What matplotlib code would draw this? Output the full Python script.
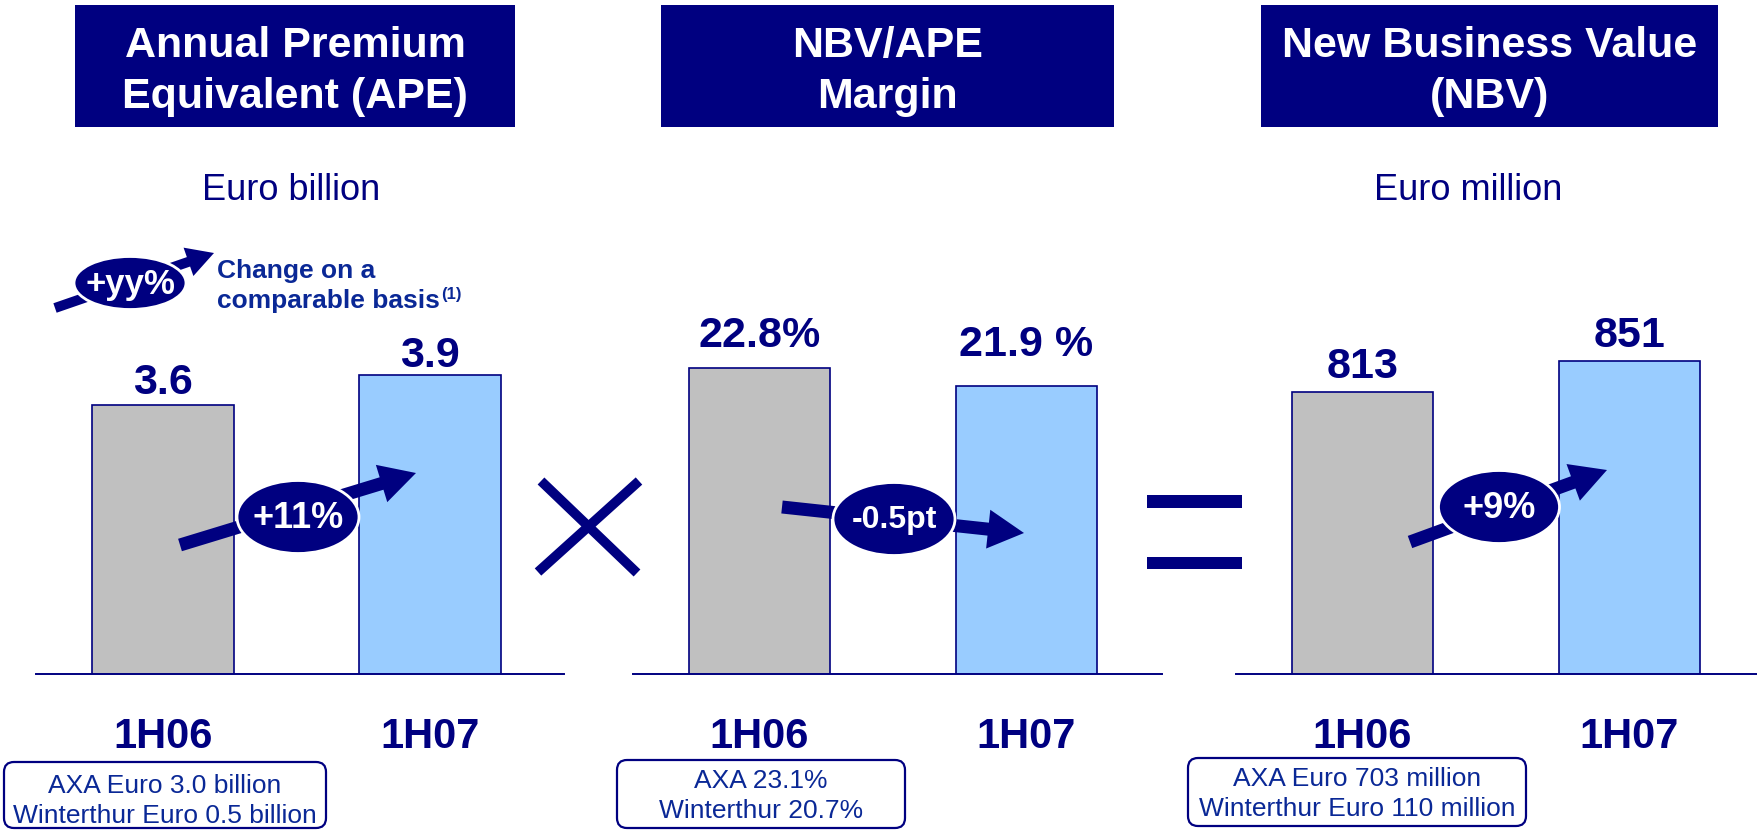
import matplotlib
matplotlib.use("Agg")
import matplotlib.pyplot as plt
from matplotlib.patches import Rectangle, Ellipse, FancyArrow, FancyBboxPatch

plt.rcParams['font.family'] = ['Liberation Sans', 'DejaVu Sans']

# ---------------- data ----------------
periods = ["1H06", "1H07"]
ape_values = [3.6, 3.9]
ape_labels = ["3.6", "3.9"]
margin_values = [22.8, 21.9]
margin_labels = ["22.8%", "21.9 %"]
nbv_values = [813, 851]
nbv_labels = ["813", "851"]
change_labels = ["+11%", "-0.5pt", "+9%"]
header_titles = [["Annual Premium", "Equivalent (APE)"],
                 ["NBV/APE", "Margin"],
                 ["New Business Value", "(NBV)"]]
unit_labels = ["Euro billion", "", "Euro million"]
detail_lines = [["AXA Euro 3.0 billion", "Winterthur Euro 0.5 billion"],
                ["AXA 23.1%", "Winterthur 20.7%"],
                ["AXA Euro 703 million", "Winterthur Euro 110 million"]]
legend_badge = "+yy%"
legend_text = ["Change on a", "comparable basis"]
legend_note = "(1)"

# ---------------- style ----------------
NAVY = "#000080"
BRIGHT = "#0A2896"
GRAY = "#C0C0C0"
LBLUE = "#99CCFF"
W, H = 1758, 830

fig = plt.figure(figsize=(W / 100, H / 100), dpi=100)
fig.patch.set_facecolor("white")

def px_axes(left, bottom_y, right, top_y):
    return fig.add_axes([left / W, (H - bottom_y) / H, (right - left) / W, (bottom_y - top_y) / H])

UNIT = 267.0          # px per category step
BASE = 674
AX_H = 420
panels = [
    dict(c0=163, values=ape_values, labels=ape_labels, ylim=(0.91, 0.91 + AX_H / 100.0),
         offs=(11, 8), right=564),
    dict(c0=759.5, values=margin_values, labels=margin_labels, ylim=(7.5, 7.5 + AX_H / 20.0),
         offs=(21, 30), right=1162),
    dict(c0=1362.5, values=nbv_values, labels=nbv_labels, ylim=(467.3, 467.3 + AX_H / 0.8158),
         offs=(14, 14), right=1763),
]
XL = -0.475
for p in panels:
    left = p["c0"] + XL * UNIT
    ax = px_axes(left, BASE, p["right"], BASE - AX_H)
    xr = (p["right"] - p["c0"]) / UNIT
    ax.set_xlim(XL, xr)
    ax.set_ylim(*p["ylim"])
    xs = list(range(len(periods)))
    ax.bar(xs, p["values"], width=0.53, color=[GRAY, LBLUE], edgecolor=NAVY,
           linewidth=1.2, zorder=2)
    for x, v, lab, off in zip(xs, p["values"], p["labels"], p["offs"]):
        ax.annotate(lab, (x, v), xytext=(0, off), textcoords="offset pixels",
                    ha="center", va="baseline", fontsize=31, fontweight="bold", color=NAVY)
    ax.set_xticks(xs)
    ax.set_xticklabels(periods)
    ax.tick_params(axis="x", length=0, pad=31, labelsize=30, labelcolor=NAVY)
    for t in ax.get_xticklabels():
        t.set_fontweight("bold")
    ax.set_yticks([])
    for s in ["left", "right", "top"]:
        ax.spines[s].set_visible(False)
    ax.spines["bottom"].set_color(NAVY)
    ax.spines["bottom"].set_linewidth(1.4)
    ax.spines["bottom"].set_zorder(3)
    ax.patch.set_alpha(0)

# ---------------- overlay (pixel coordinates) ----------------
ov = fig.add_axes([0, 0, 1, 1], zorder=10)
ov.set_xlim(0, W)
ov.set_ylim(H, 0)
ov.axis("off")
ov.patch.set_alpha(0)

# headers
header_boxes = [(75, 515), (661, 1114), (1261, 1718)]
for (x0, x1), lines in zip(header_boxes, header_titles):
    ov.add_patch(Rectangle((x0, 5), x1 - x0, 122, facecolor=NAVY, edgecolor="none"))
    cx = (x0 + x1) / 2
    ov.text(cx, 57, lines[0], ha="center", va="baseline", color="white",
            fontsize=31, fontweight="bold")
    ov.text(cx, 108, lines[1], ha="center", va="baseline", color="white",
            fontsize=31, fontweight="bold")

# unit labels
for cx, lab in zip([291, 0, 1468], unit_labels):
    if lab:
        ov.text(cx, 200, lab, ha="center", va="baseline", color=NAVY, fontsize=26)

# change arrows with badges
def badge_arrow(start, end, center, size, text, fs, shaft=13, hw=39, hl=36):
    dx, dy = end[0] - start[0], end[1] - start[1]
    ov.add_patch(FancyArrow(start[0], start[1], dx, dy, width=shaft, head_width=hw,
                            head_length=hl, length_includes_head=True,
                            facecolor=NAVY, edgecolor="none", zorder=2))
    ov.add_patch(Ellipse(center, size[0], size[1], facecolor=NAVY, edgecolor="white",
                         linewidth=2, zorder=3))
    ov.text(center[0], center[1] + 1, text, ha="center", va="center", color="white",
            fontsize=fs, fontweight="bold", zorder=4)

badge_arrow((180, 545), (416, 473), (298, 517), (122, 73), change_labels[0], 26)
badge_arrow((782, 507), (1024, 533), (894, 519), (122, 73), change_labels[1], 23)
badge_arrow((1410, 542), (1607, 470), (1499, 507), (121, 73), change_labels[2], 26)

# legend badge
badge_arrow((55, 308), (214, 253), (130, 283), (112, 53), legend_badge, 25,
            shaft=10, hw=30, hl=27)
ov.text(217, 278, legend_text[0], ha="left", va="baseline", color=BRIGHT,
        fontsize=19, fontweight="bold")
t2 = ov.text(217, 308, legend_text[1], ha="left", va="baseline", color=BRIGHT,
             fontsize=19, fontweight="bold")
ov.annotate(legend_note, xy=(1, 1), xycoords=t2, xytext=(1, 2), textcoords="offset pixels",
            ha="left", va="top", color=BRIGHT, fontsize=12, fontweight="bold")

# multiplication sign
ov.plot([541, 637], [481, 573], color=NAVY, lw=7, solid_capstyle="butt")
ov.plot([639, 538], [481, 572], color=NAVY, lw=7, solid_capstyle="butt")

# equals sign
ov.add_patch(Rectangle((1147, 495), 95, 13, facecolor=NAVY, edgecolor="none"))
ov.add_patch(Rectangle((1147, 557), 95, 12, facecolor=NAVY, edgecolor="none"))

# detail boxes
detail_boxes = [(4, 326, 762, 828, 786, 816),
                (617, 905, 760, 828, 781, 811),
                (1188, 1526, 758, 826, 779, 809)]
for (x0, x1, y0, y1, l1, l2), lines in zip(detail_boxes, detail_lines):
    ov.add_patch(FancyBboxPatch((x0, y0), x1 - x0, y1 - y0,
                                boxstyle="round,pad=0,rounding_size=10",
                                facecolor="white", edgecolor=NAVY, linewidth=1.6))
    cx = (x0 + x1) / 2
    ov.text(cx, l1, lines[0], ha="center", va="center", color=BRIGHT, fontsize=19)
    ov.text(cx, l2, lines[1], ha="center", va="center", color=BRIGHT, fontsize=19)

fig.savefig("out.png", dpi=100, facecolor="white")
